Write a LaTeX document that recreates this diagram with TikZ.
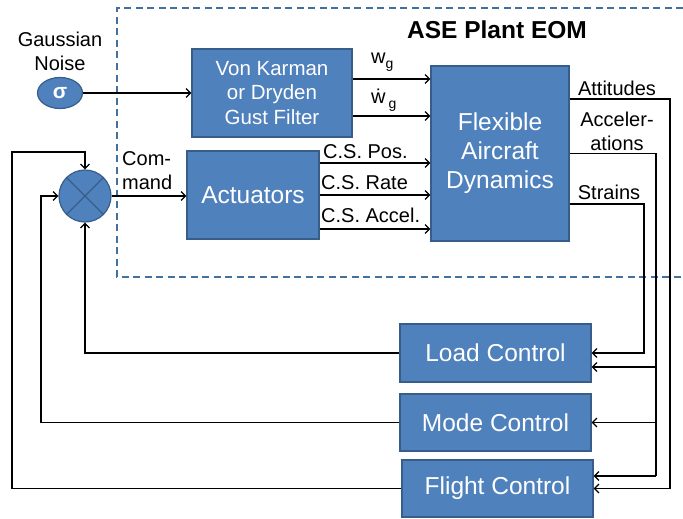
\documentclass[tikz,border=0pt]{standalone}
\usepackage{fontspec}
\setmainfont{Liberation Sans}
\usetikzlibrary{arrows.meta,shapes.geometric}
\definecolor{boxblue}{HTML}{4F81BD}
\definecolor{boxedge}{HTML}{385D8A}
\definecolor{dashblue}{HTML}{41719C}
\newcommand{\subg}{\raisebox{-5pt}{\fontsize{14}{14}\selectfont g}}
\begin{document}
\begin{tikzpicture}[x=1pt,y=-1pt,
  blk/.style={draw=boxedge, line width=1.2pt, fill=boxblue, text=white, inner sep=0pt, align=center},
  conn/.style={line width=1.2pt, -{Straight Barb[length=4.5pt,width=9pt,line width=1.2pt]}},
  wire/.style={line width=1.2pt},
  lbl/.style={font=\fontsize{20}{24}\selectfont, inner sep=0pt, align=center},
  big/.style={font=\fontsize{24.5}{29}\selectfont}]
\useasboundingbox (0,0) rectangle (683,519);

% dashed plant boundary
\draw[dashblue, line width=1.3pt, dash pattern=on 7pt off 4.5pt] (683,8) -- (117,8) -- (117,277) -- (683,277);
\node[font=\bfseries\fontsize{24.5}{29}\selectfont, inner sep=0pt] (title) at (497,30) {ASE Plant EOM};

% nodes
\node[lbl] (gtxt) at (60,51) {Gaussian\\Noise};
\node[ellipse, draw=boxedge, line width=1.2pt, fill=boxblue, text=white, minimum width=45pt, minimum height=31pt, inner sep=0pt, font=\bfseries\fontsize{21}{24}\selectfont] (noise) at (60,93) {σ};
\node[blk, minimum width=160pt, minimum height=88pt, font=\fontsize{20.5}{24.5}\selectfont] (gust) at (272,93) {Von Karman\\or Dryden\\Gust Filter};
\node[blk, minimum width=132pt, minimum height=88pt, big] (act) at (253,195) {Actuators};
\node[blk, minimum width=138pt, minimum height=175pt, big] (fad) at (500,153.5) {Flexible\\Aircraft\\Dynamics};
\node[circle, draw=boxedge, line width=1.2pt, fill=boxblue, minimum size=52pt, inner sep=0pt] (sum) at (85,196) {};
\draw[boxedge, line width=1.2pt] (sum.north west) -- (sum.south east) (sum.north east) -- (sum.south west);
\node[blk, minimum width=191pt, minimum height=58pt, big] (load) at (495.5,353) {Load Control};
\node[blk, minimum width=191pt, minimum height=57pt, big] (mode) at (495.5,422.5) {Mode Control};
\node[blk, minimum width=191pt, minimum height=57pt, big] (flight) at (497.5,488.5) {Flight Control};

% labels
\node[lbl, anchor=west] (lwg) at (371,62) {w\subg};
\node[lbl, anchor=west] (lwdg) at (371,100) {\.{w}\hspace{3pt}\subg};
\node[lbl, anchor=west] (lpos) at (323,152) {C.S. Pos.};
\node[lbl, anchor=west] (lrate) at (321,183) {C.S. Rate};
\node[lbl, anchor=west] (lacc) at (321,215) {C.S. Accel.};
\node[lbl] (latt) at (617,88) {Attitudes};
\node[lbl] (lacl) at (617,131) {Acceler-\\ations};
\node[lbl] (lstr) at (609,192) {Strains};
\node[lbl, align=left, anchor=west] (lcmd) at (122,170.5) {Com-\\mand};

% helper coordinates
\coordinate (xs) at (644,0);
\coordinate (xa) at (656,0);
\coordinate (xt) at (670,0);
\coordinate (xm) at (41,0);
\coordinate (xf) at (12,0);
\coordinate (yt) at (0,152);
\coordinate (g1) at ([yshift=14pt]gust.east);
\coordinate (g2) at ([yshift=-23pt]gust.east);
\coordinate (a1) at ([yshift=32pt]act.east);
\coordinate (a3) at ([yshift=-34pt]act.east);
\coordinate (fatt) at ([yshift=54.5pt]fad.east);
\coordinate (fstr) at ([yshift=-50.5pt]fad.east);
\coordinate (la) at ([yshift=-14pt]load.east);
\coordinate (fa) at ([yshift=12.5pt]flight.east);

% forward path
\draw[conn] (noise.east) -- (gust.west);
\draw[conn] (g1) -- (g1 -| fad.west);
\draw[conn] (g2) -- (g2 -| fad.west);
\draw[conn] (sum.east) -- (act.west |- sum.east);
\draw[conn] (a1) -- (a1 -| fad.west);
\draw[conn] (act.east) -- (act.east -| fad.west);
\draw[conn] (a3) -- (a3 -| fad.west);

% outputs to controllers
\draw[conn] (fstr) -| (xs |- load.east) -- (load.east);
\draw[wire] (fad.east) -| (fa -| xa);
\draw[conn] (la -| xa) -- (la);
\draw[conn] (mode.east -| xa) -- (mode.east);
\draw[conn] (fa -| xa) -- (fa);
\draw[conn] (fatt) -| (xt |- flight.east) -- (flight.east);

% feedback
\draw[conn] (load.west) -| (sum.south);
\draw[conn] (mode.west) -| (xm |- sum.west) -- (sum.west);
\draw[conn] (flight.west) -| (xf |- yt) -| (sum.north);
\end{tikzpicture}
\end{document}
